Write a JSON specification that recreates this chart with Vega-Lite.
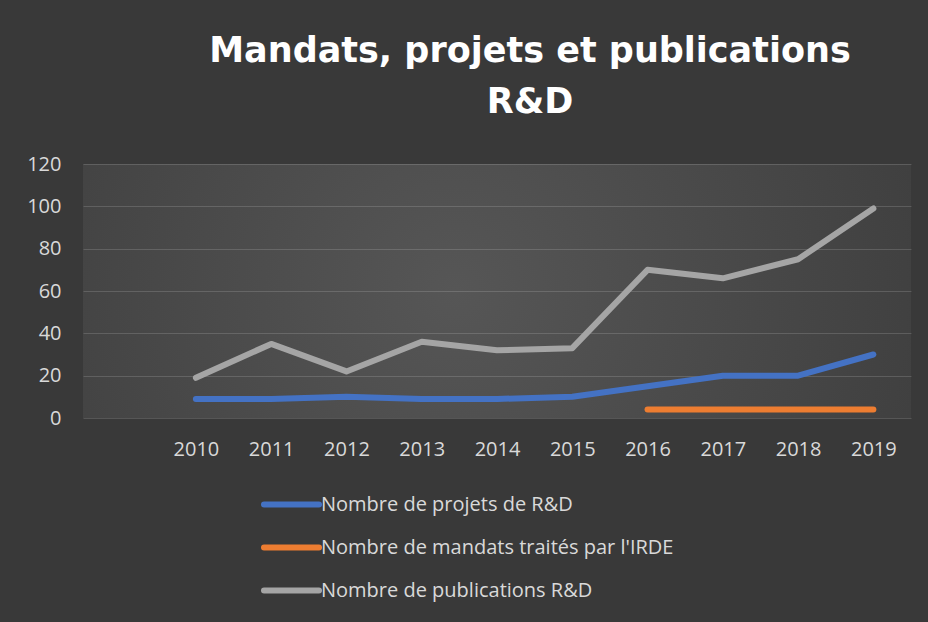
{
  "$schema": "https://vega.github.io/schema/vega-lite/v6.json",
  "width": 828,
  "height": 254,
  "autosize": "none",
  "padding": {"left": 83, "top": 164, "right": 17, "bottom": 204},
  "background": "#393939",
  "title": {
    "text": ["Mandats, projets et publications", "R&D"],
    "font": "DejaVu Sans",
    "fontSize": 35,
    "fontWeight": "bold",
    "color": "#ffffff",
    "anchor": "middle",
    "frame": "group",
    "dx": 33,
    "dy": 45,
    "lineHeight": 51,
    "baseline": "bottom",
    "offset": 44
  },
  "data": {
    "values": [
      {"year": "2010", "series": "Nombre de projets de R&D", "value": 9},
      {"year": "2011", "series": "Nombre de projets de R&D", "value": 9},
      {"year": "2012", "series": "Nombre de projets de R&D", "value": 10},
      {"year": "2013", "series": "Nombre de projets de R&D", "value": 9},
      {"year": "2014", "series": "Nombre de projets de R&D", "value": 9},
      {"year": "2015", "series": "Nombre de projets de R&D", "value": 10},
      {"year": "2016", "series": "Nombre de projets de R&D", "value": 15},
      {"year": "2017", "series": "Nombre de projets de R&D", "value": 20},
      {"year": "2018", "series": "Nombre de projets de R&D", "value": 20},
      {"year": "2019", "series": "Nombre de projets de R&D", "value": 30},
      {"year": "2016", "series": "Nombre de mandats traités par l'IRDE", "value": 4},
      {"year": "2017", "series": "Nombre de mandats traités par l'IRDE", "value": 4},
      {"year": "2018", "series": "Nombre de mandats traités par l'IRDE", "value": 4},
      {"year": "2019", "series": "Nombre de mandats traités par l'IRDE", "value": 4},
      {"year": "2010", "series": "Nombre de publications R&D", "value": 19},
      {"year": "2011", "series": "Nombre de publications R&D", "value": 35},
      {"year": "2012", "series": "Nombre de publications R&D", "value": 22},
      {"year": "2013", "series": "Nombre de publications R&D", "value": 36},
      {"year": "2014", "series": "Nombre de publications R&D", "value": 32},
      {"year": "2015", "series": "Nombre de publications R&D", "value": 33},
      {"year": "2016", "series": "Nombre de publications R&D", "value": 70},
      {"year": "2017", "series": "Nombre de publications R&D", "value": 66},
      {"year": "2018", "series": "Nombre de publications R&D", "value": 75},
      {"year": "2019", "series": "Nombre de publications R&D", "value": 99}
    ]
  },
  "mark": {"type": "line", "strokeWidth": 6, "strokeCap": "round", "strokeJoin": "round"},
  "encoding": {
    "x": {
      "field": "year",
      "type": "ordinal",
      "sort": null,
      "scale": {"type": "point", "domain": ["", "2010", "2011", "2012", "2013", "2014", "2015", "2016", "2017", "2018", "2019"], "padding": 0.5},
      "axis": {"title": null, "labelAngle": 0, "domain": false, "ticks": false, "tickSize": 0, "labelPadding": 21, "grid": false}
    },
    "y": {
      "field": "value",
      "type": "quantitative",
      "scale": {"domain": [0, 120]},
      "axis": {"title": null, "values": [0, 20, 40, 60, 80, 100, 120], "domain": false, "ticks": false, "tickSize": 0, "labelPadding": 22, "grid": true, "gridColor": "#ffffff", "gridOpacity": 0.15, "gridWidth": 1}
    },
    "color": {
      "field": "series",
      "type": "nominal",
      "scale": {
        "domain": ["Nombre de projets de R&D", "Nombre de mandats traités par l'IRDE", "Nombre de publications R&D"],
        "range": ["#4472C4", "#ED7D31", "#A5A5A5"]
      },
      "legend": {
        "title": null,
        "orient": "none",
        "legendX": 178,
        "legendY": 310,
        "direction": "vertical",
        "symbolType": "stroke",
        "symbolSize": 3025,
        "symbolStrokeWidth": 6,
        "labelFontSize": 20,
        "labelFont": "Open Sans",
        "labelColor": "#d9d9d9",
        "labelOffset": -1,
        "labelLimit": 600,
        "rowPadding": -8,
        "encode": {"symbols": {"update": {"strokeCap": {"value": "round"}}}}
      }
    }
  },
  "config": {
    "font": "Open Sans",
    "view": {
      "stroke": null,
      "fill": {"gradient": "radial", "x1": 0.45, "y1": 0.5, "r1": 0, "x2": 0.45, "y2": 0.5, "r2": 0.75,
        "stops": [{"offset": 0, "color": "#565656"}, {"offset": 1, "color": "#393939"}]}
    },
    "axis": {"labelFont": "Open Sans", "labelFontSize": 20, "labelColor": "#d9d9d9"}
  }
}
